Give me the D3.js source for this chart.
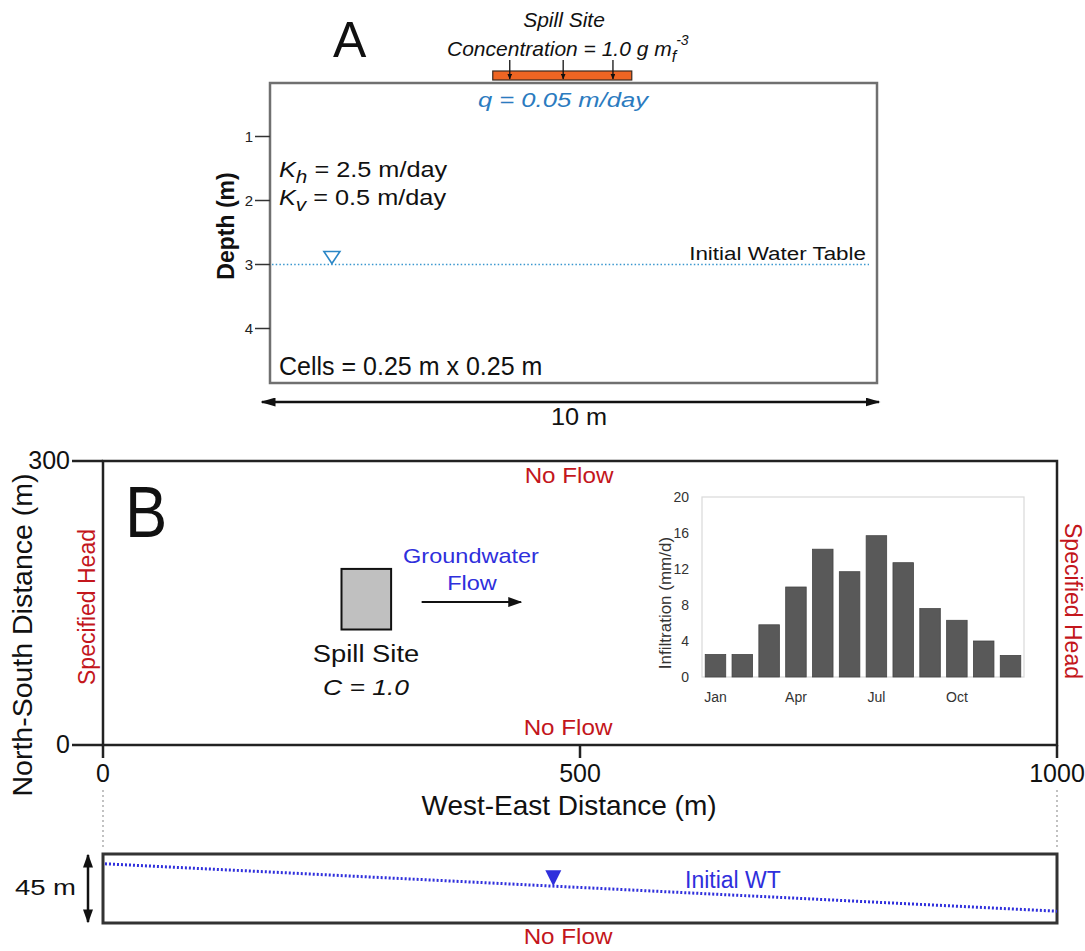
<!DOCTYPE html>
<html>
<head>
<meta charset="utf-8">
<script src="https://cdn.jsdelivr.net/npm/d3@7"></script>
<style>
  body { margin: 0; background: #fff; }
  svg { display: block; font-family: 'Liberation Sans', Arial, sans-serif; }
</style>
</head>
<body>
<div id="chart"></div>
<script>
// ---- data ----
const months = ['Jan', 'Feb', 'Mar', 'Apr', 'May', 'Jun', 'Jul', 'Aug', 'Sep', 'Oct', 'Nov', 'Dec'];
const infiltration = [2.5, 2.5, 5.8, 10.0, 14.2, 11.7, 15.7, 12.7, 7.6, 6.3, 4.0, 2.4];
const monthLabels = ['Jan', 'Apr', 'Jul', 'Oct'];
const infiltrationTicks = [0, 4, 8, 12, 16, 20];

const depthTicks = [1, 2, 3, 4];
const waterTableDepth = 3;              // m, panel A
const spillSiteA = [3.67, 5.96];        // m along the 10 m section
const spillArrowsA = [3.95, 4.83, 5.65];
const wtMarkerA = 1.02;

const nsTicks = [0, 300];
const weTicks = [0, 500, 1000];
const spillSiteBX = [250, 302];         // m
const spillSiteBY = [122, 186];
const flowArrowX = [334, 438];
const flowArrowY = 151;

const wtProfileX = [0, 1000];           // bottom cross-section
const wtProfileZ = [38.6, 7.7];
const wtMarkerB = 472;
const aquiferThickness = 45;

const RED = '#c3161c';
const BLUE_A = '#2b7bbf';
const BLUE_B = '#2f2fdc';

const svg = d3.select('#chart').append('svg')
    .attr('width', 1085)
    .attr('height', 951);
svg.append('rect').attr('width', 1085).attr('height', 951).attr('fill', '#fff');

const defs = svg.append('defs');
function marker(id, len, wid, color) {
    defs.append('marker')
        .attr('id', id)
        .attr('viewBox', '0 0 10 10')
        .attr('refX', 9).attr('refY', 5)
        .attr('markerWidth', len).attr('markerHeight', wid)
        .attr('markerUnits', 'userSpaceOnUse')
        .attr('orient', 'auto-start-reverse')
        .attr('preserveAspectRatio', 'none')
        .append('path')
        .attr('d', 'M0,0L10,5L0,10Z')
        .attr('fill', color);
}
marker('big', 15, 9, '#111');
marker('mid', 14, 10, '#111');
marker('small', 6, 5, '#111');

// text helper: sx stretches the type horizontally like the figure's
function label(g, x, y, s, o = {}) {
    let tr = `translate(${x},${y})`;
    if (o.rot) tr += ` rotate(${o.rot})`;
    if (o.sx) tr += ` scale(${o.sx},1)`;
    const t = g.append('text')
        .attr('transform', tr)
        .attr('text-anchor', o.anchor || 'start')
        .attr('font-size', o.size || 20)
        .attr('fill', o.fill || '#111');
    if (o.italic) t.attr('font-style', 'italic');
    if (o.bold) t.attr('font-weight', 'bold');
    if (s != null) t.text(s);
    return t;
}

// ================= Panel A =================
const xA = d3.scaleLinear().domain([0, 10]).range([270, 877]);
const yA = d3.scaleLinear().domain([1, 4]).range([136.5, 328.5]);
const gA = svg.append('g');

gA.append('rect')
    .attr('x', xA(0)).attr('y', 83)
    .attr('width', xA(10) - xA(0)).attr('height', 300)
    .attr('fill', 'none').attr('stroke', '#707070').attr('stroke-width', 2.5);

gA.selectAll('.dtick').data(depthTicks).join('line')
    .attr('x1', xA(0) - 15).attr('x2', xA(0))
    .attr('y1', d => yA(d)).attr('y2', d => yA(d))
    .attr('stroke', '#333').attr('stroke-width', 1.5);
depthTicks.forEach(d => label(gA, xA(0) - 17, yA(d) + 5.5, d, { anchor: 'end', size: 15, fill: '#222' }));
label(gA, 234, 226, 'Depth (m)', { rot: -90, anchor: 'middle', size: 23, bold: true });

// water table
gA.append('line')
    .attr('x1', xA(0) + 2).attr('x2', xA(10) - 8)
    .attr('y1', yA(waterTableDepth)).attr('y2', yA(waterTableDepth))
    .attr('stroke', '#3a97cf').attr('stroke-width', 1.6).attr('stroke-dasharray', '1.5,2.2');
const tx = xA(wtMarkerA), ty = yA(waterTableDepth);
gA.append('path')
    .attr('d', `M${tx - 8},${ty - 13}L${tx + 8},${ty - 13}L${tx},${ty - 1}Z`)
    .attr('fill', '#fff').attr('stroke', '#2a86c6').attr('stroke-width', 1.6);
label(gA, 866, yA(waterTableDepth) - 5, 'Initial Water Table', { anchor: 'end', size: 19, sx: 1.18 });

// conductivities
function kLine(y, sub, rest) {
    const t = label(gA, 279, y, null, { size: 22, sx: 1.15 });
    t.append('tspan').attr('font-style', 'italic').text('K');
    t.append('tspan').attr('font-style', 'italic').attr('font-size', 18).attr('dy', 6).text(sub);
    t.append('tspan').attr('dy', -6).text(rest);
}
kLine(177, 'h', ' = 2.5 m/day');
kLine(205, 'v', ' = 0.5 m/day');
label(gA, 279, 375, 'Cells = 0.25 m x 0.25 m', { size: 25 });

label(gA, 563, 107, 'q = 0.05 m/day', { anchor: 'middle', italic: true, size: 21, sx: 1.22, fill: BLUE_A });

// spill source
gA.append('rect')
    .attr('x', xA(spillSiteA[0])).attr('y', 71)
    .attr('width', xA(spillSiteA[1]) - xA(spillSiteA[0])).attr('height', 9)
    .attr('fill', '#ee6523').attr('stroke', '#3a2a20').attr('stroke-width', 1.2);
gA.selectAll('.sarrow').data(spillArrowsA).join('line')
    .attr('x1', d => xA(d)).attr('x2', d => xA(d))
    .attr('y1', 60).attr('y2', 79)
    .attr('stroke', '#111').attr('stroke-width', 1.3)
    .attr('marker-end', 'url(#small)');
label(gA, 564, 27, 'Spill Site', { anchor: 'middle', italic: true, size: 21 });
const conc = label(gA, 447, 56, null, { italic: true, size: 21 });
conc.append('tspan').text('Concentration = 1.0 g m');
conc.append('tspan').attr('font-size', 16).attr('dy', 6).text('f');
conc.append('tspan').attr('font-size', 14).attr('dy', -17).text('-3');

label(gA, 333, 57, 'A', { size: 50 });

gA.append('line')
    .attr('x1', xA(0) - 8).attr('x2', xA(10) + 2)
    .attr('y1', 402).attr('y2', 402)
    .attr('stroke', '#111').attr('stroke-width', 2.5)
    .attr('marker-start', 'url(#big)').attr('marker-end', 'url(#big)');
label(gA, 579, 425, '10 m', { anchor: 'middle', size: 23, sx: 1.1 });

// ================= Panel B =================
const xB = d3.scaleLinear().domain([0, 1000]).range([103, 1057]);
const yB = d3.scaleLinear().domain([0, 300]).range([745, 461]);
const gB = svg.append('g');

gB.append('rect')
    .attr('x', xB(0)).attr('y', yB(300))
    .attr('width', xB(1000) - xB(0)).attr('height', yB(0) - yB(300))
    .attr('fill', 'none').attr('stroke', '#222').attr('stroke-width', 2.5);

gB.selectAll('.ytick').data(nsTicks).join('line')
    .attr('x1', xB(0) - 31).attr('x2', xB(0))
    .attr('y1', d => yB(d)).attr('y2', d => yB(d))
    .attr('stroke', '#222').attr('stroke-width', 2.5);
nsTicks.forEach(d => label(gB, xB(0) - 33, yB(d) + 8, d, { anchor: 'end', size: 25 }));

gB.selectAll('.xtick').data(weTicks).join('line')
    .attr('x1', d => xB(d)).attr('x2', d => xB(d))
    .attr('y1', yB(0)).attr('y2', yB(0) + 13)
    .attr('stroke', '#222').attr('stroke-width', 2.5);
weTicks.forEach(d => label(gB, xB(d), 782, d, { anchor: 'middle', size: 25 }));

label(gB, 569, 815, 'West-East Distance (m)', { anchor: 'middle', size: 28 });
label(gB, 32, 635, 'North-South Distance (m)', { rot: -90, anchor: 'middle', size: 28.5 });
label(gB, 125, 537, 'B', { size: 72, sx: 0.88 });

label(gB, 569, 483, 'No Flow', { anchor: 'middle', size: 22, sx: 1.1, fill: RED });
label(gB, 568, 735, 'No Flow', { anchor: 'middle', size: 22, sx: 1.1, fill: RED });
label(gB, 95, 607, 'Specified Head', { rot: -90, anchor: 'middle', size: 23, fill: RED });
label(gB, 1065, 601, 'Specified Head', { rot: 90, anchor: 'middle', size: 23, fill: RED });

// spill site + flow direction
gB.append('rect')
    .attr('x', xB(spillSiteBX[0])).attr('y', yB(spillSiteBY[1]))
    .attr('width', xB(spillSiteBX[1]) - xB(spillSiteBX[0]))
    .attr('height', yB(spillSiteBY[0]) - yB(spillSiteBY[1]))
    .attr('fill', '#c0c0c0').attr('stroke', '#111').attr('stroke-width', 2);
label(gB, 366, 662, 'Spill Site', { anchor: 'middle', size: 24, sx: 1.14 });
label(gB, 366, 695, 'C = 1.0', { anchor: 'middle', size: 22, sx: 1.2, italic: true });

gB.append('line')
    .attr('x1', xB(flowArrowX[0])).attr('x2', xB(flowArrowX[1]))
    .attr('y1', yB(flowArrowY)).attr('y2', yB(flowArrowY))
    .attr('stroke', '#111').attr('stroke-width', 2)
    .attr('marker-end', 'url(#mid)');
label(gB, 471, 563, 'Groundwater', { anchor: 'middle', size: 21, sx: 1.12, fill: BLUE_B });
label(gB, 472, 590, 'Flow', { anchor: 'middle', size: 21, sx: 1.12, fill: BLUE_B });

// ---- infiltration inset ----
const xI = d3.scaleBand().domain(months).range([702, 1024]).paddingInner(0.235).paddingOuter(0.12);
const yI = d3.scaleLinear().domain([0, 20]).range([677, 497]);
const gI = gB.append('g');

gI.append('rect')
    .attr('x', 702).attr('y', yI(20))
    .attr('width', 322).attr('height', yI(0) - yI(20))
    .attr('fill', 'none').attr('stroke', '#d9d9d9').attr('stroke-width', 1.2);
gI.selectAll('.bar').data(infiltration).join('rect')
    .attr('x', (d, i) => xI(months[i]))
    .attr('y', d => yI(d))
    .attr('width', xI.bandwidth())
    .attr('height', d => yI(0) - yI(d))
    .attr('fill', '#595959').attr('stroke', '#454545').attr('stroke-width', 0.8);
infiltrationTicks.forEach(d => label(gI, 689, yI(d) + 5, d, { anchor: 'end', size: 14, fill: '#333' }));
monthLabels.forEach(m => label(gI, xI(m) + xI.bandwidth() / 2, 702, m, { anchor: 'middle', size: 14, fill: '#333' }));
label(gI, 671, 603, 'Infiltration (mm/d)', { rot: -90, anchor: 'middle', size: 17, fill: '#333' });

// ================= cross-section =================
const zB = d3.scaleLinear().domain([0, aquiferThickness]).range([923, 854]);
const wt = d3.scaleLinear().domain(wtProfileX).range(wtProfileZ);
const gC = svg.append('g');

gC.selectAll('.guide').data([0, 1000]).join('line')
    .attr('x1', d => xB(d)).attr('x2', d => xB(d))
    .attr('y1', 790).attr('y2', 850)
    .attr('stroke', '#999').attr('stroke-width', 1.2).attr('stroke-dasharray', '2,3');

gC.append('rect')
    .attr('x', xB(0)).attr('y', zB(aquiferThickness))
    .attr('width', xB(1000) - xB(0)).attr('height', zB(0) - zB(aquiferThickness))
    .attr('fill', 'none').attr('stroke', '#333').attr('stroke-width', 3);

gC.append('line')
    .attr('x1', 88).attr('x2', 88)
    .attr('y1', zB(aquiferThickness) + 1).attr('y2', zB(0) - 1)
    .attr('stroke', '#111').attr('stroke-width', 2.5)
    .attr('marker-start', 'url(#mid)').attr('marker-end', 'url(#mid)');
label(gC, 76, 895, `${aquiferThickness} m`, { anchor: 'end', size: 22, sx: 1.25 });

gC.append('line')
    .attr('x1', xB(wtProfileX[0]) + 2).attr('x2', xB(wtProfileX[1]))
    .attr('y1', zB(wtProfileZ[0])).attr('y2', zB(wtProfileZ[1]))
    .attr('stroke', BLUE_B).attr('stroke-width', 3).attr('stroke-dasharray', '2,2');
const mx = xB(wtMarkerB), my = zB(wt(wtMarkerB));
gC.append('path')
    .attr('d', `M${mx - 8},${my - 16}L${mx + 8},${my - 16}L${mx},${my}Z`)
    .attr('fill', BLUE_B);
label(gC, 685, 888, 'Initial WT', { size: 23, fill: BLUE_B });
label(gC, 568, 944, 'No Flow', { anchor: 'middle', size: 22, sx: 1.1, fill: RED });
</script>
</body>
</html>
